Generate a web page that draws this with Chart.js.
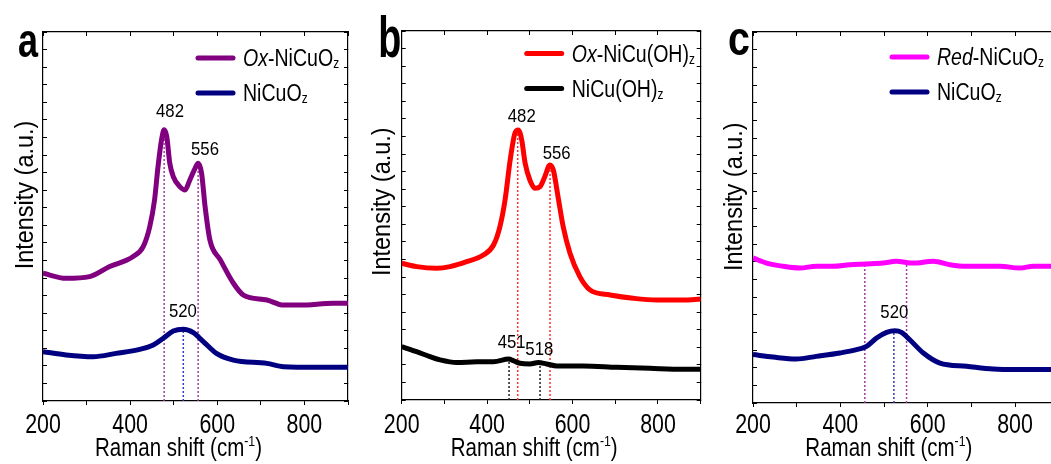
<!DOCTYPE html>
<html>
<head>
<meta charset="utf-8">
<script src="https://cdn.jsdelivr.net/npm/chart.js@4.4.1/dist/chart.umd.min.js"></script>
<style>
  body { margin: 0; background: #fff; width: 1051px; height: 464px; overflow: hidden; position: relative; }
  canvas { position: absolute; top: 0; }
</style>
</head>
<body>
<canvas id="panelA" width="360" height="464" style="left:0px"></canvas>
<canvas id="panelB" width="360" height="464" style="left:350px"></canvas>
<canvas id="panelC" width="365" height="464" style="left:705px"></canvas>
<script>
const FONT = "'Liberation Sans', Arial, sans-serif";

// Panel a: Ox-NiCuOz and NiCuOz (Raman shift in cm-1, intensity in a.u. with offset)
const shiftOxNiCuOz = [200, 253, 307, 353, 407, 430, 445, 456, 464, 472, 478, 484, 491, 499, 514, 526, 537, 549, 556, 564, 572, 583, 607, 637, 660, 714, 752, 790, 867, 900];
const intOxNiCuOz = [7.27, 6.98, 7.08, 7.65, 8.22, 8.79, 9.92, 11.44, 13.34, 14.86, 15.43, 15.05, 13.53, 12.77, 12.20, 12.01, 12.58, 13.24, 13.53, 12.96, 11.06, 9.17, 8.03, 6.70, 6.03, 5.75, 5.46, 5.46, 5.56, 5.56];
const shiftNiCuOzA = [200, 253, 315, 368, 422, 453, 476, 499, 522, 545, 568, 598, 637, 714, 752, 828, 900];
const intNiCuOzA = [2.81, 2.62, 2.52, 2.71, 2.94, 3.19, 3.57, 3.98, 4.08, 3.89, 3.38, 2.71, 2.33, 2.14, 1.95, 1.92, 1.92];

// Panel b: Ox-NiCu(OH)z and NiCu(OH)z
const shiftOxNiCuOH = [200, 235, 282, 313, 352, 391, 415, 430, 442, 454, 465, 473, 481, 489, 500, 512, 524, 535, 547, 555, 566, 578, 594, 617, 641, 688, 742, 797, 859, 900];
const intOxNiCuOH = [7.78, 7.59, 7.50, 7.59, 7.87, 8.25, 8.82, 9.87, 11.39, 13.66, 15.18, 15.37, 14.80, 13.47, 12.52, 12.05, 12.14, 12.71, 13.38, 13.09, 11.57, 9.87, 8.35, 7.02, 6.26, 5.98, 5.79, 5.69, 5.69, 5.75];
const shiftNiCuOH = [200, 235, 266, 290, 329, 376, 415, 451, 461, 477, 500, 520, 539, 563, 625, 703, 781, 859, 900];
const intNiCuOH = [3.04, 2.75, 2.47, 2.28, 2.13, 2.18, 2.18, 2.33, 2.24, 2.09, 2.05, 2.13, 2.05, 1.94, 1.94, 1.86, 1.80, 1.75, 1.75];

// Panel c: Red-NiCuOz and NiCuOz
const shiftRedNiCuOz = [200, 231, 269, 307, 345, 383, 421, 460, 498, 528, 567, 613, 651, 689, 727, 765, 811, 842, 881, 900];
const intRedNiCuOz = [8.21, 7.92, 7.74, 7.64, 7.74, 7.74, 7.83, 7.87, 7.92, 8.02, 7.92, 8.02, 7.83, 7.74, 7.74, 7.74, 7.64, 7.74, 7.74, 7.74];
const shiftNiCuOzC = [200, 246, 299, 345, 399, 437, 460, 483, 506, 525, 540, 559, 590, 628, 689, 750, 804, 881, 900];
const intNiCuOzC = [2.74, 2.60, 2.49, 2.64, 2.83, 3.02, 3.21, 3.68, 4.00, 4.09, 4.00, 3.58, 2.83, 2.26, 2.08, 1.92, 1.89, 1.89, 1.89];

// Dotted peak markers: position and top of the line
const markerPosA = [478, 556, 522];
const markerTopA = [15.1, 13.4, 4.05];
const markerPosB = [471.6, 547.3, 451.3, 523.9];
const markerTopB = [15.2, 13.3, 2.2, 2.0];
const markerPosC = [456, 551.6, 522.6];
const markerTopC = [7.9, 7.9, 4.0];

// Peak labels (centre of the text)
const peakTextA = ['482', '556', '520'];
const peakXA = [491.5, 571.8, 521];
const peakYA = [16.56, 14.4, 5.18];
const peakTextB = ['482', '556', '451', '518'];
const peakXB = [481, 562.9, 457.5, 522.2];
const peakYB = [16.2, 14.1, 3.32, 2.94];
const peakTextC = ['520'];
const peakXC = [523.6];
const peakYC = [5.17];

const tickLabelValues = [200, 400, 600, 800];

const points = (xs, ys) => xs.map((x, i) => ({ x: x, y: ys[i] }));

function curve(xs, ys, color) {
    return {
        data: points(xs, ys),
        borderColor: color,
        borderWidth: 5,
        pointRadius: 0,
        cubicInterpolationMode: 'monotone',
        order: 0
    };
}

function marker(x, top, color) {
    return {
        data: [{ x: x, y: 0 }, { x: x, y: top }],
        borderColor: color,
        borderWidth: 1.5,
        borderDash: [2, 2],
        pointRadius: 0,
        order: 1
    };
}

// Draw text squeezed horizontally (the original figure uses a narrow font)
// parts: [{t, italic, sub, sup}], y is the baseline
function drawText(ctx, parts, x, y, size, sx, align, weight) {
    const fontFor = p => `${p.italic ? 'italic ' : ''}${weight || ''} ${p.sub || p.sup ? Math.round(size * 0.6) : size}px ${FONT}`;
    let width = 0;
    parts.forEach(p => { ctx.font = fontFor(p); width += ctx.measureText(p.t).width; });
    ctx.save();
    ctx.translate(x, y);
    ctx.scale(sx, 1);
    let cx = align === 'center' ? -width / 2 : 0;
    ctx.textAlign = 'left';
    ctx.textBaseline = 'alphabetic';
    parts.forEach(p => {
        ctx.font = fontFor(p);
        const dy = p.sub ? size * 0.08 : p.sup ? -size * 0.42 : 0;
        ctx.fillText(p.t, cx, dy);
        cx += ctx.measureText(p.t).width;
    });
    ctx.restore();
}

function decor(cfg) {
    return {
        id: 'decor',
        afterDraw(chart) {
            const { ctx, chartArea: area, scales: { x, y } } = chart;
            ctx.save();
            ctx.fillStyle = '#000';

            // panel letter
            drawText(ctx, [{ t: cfg.letter }], cfg.letterX, cfg.letterBase, cfg.letterSize, cfg.letterSx, 'left', 'bold');

            // x tick labels
            tickLabelValues.forEach(v => {
                drawText(ctx, [{ t: String(v) }], x.getPixelForValue(v), 433, 28.5, 0.75, 'center');
            });

            // axis titles
            drawText(ctx, [{ t: 'Raman shift (cm' }, { t: '-1', sup: true }, { t: ')' }], (area.left + area.right) / 2 - 17, 456, 25, 0.82, 'center');
            ctx.save();
            ctx.translate(cfg.yTitleX, cfg.yTitleY);
            ctx.rotate(-Math.PI / 2);
            drawText(ctx, [{ t: 'Intensity (a.u.)' }], 0, 0, 25.5, 0.92, 'center');
            ctx.restore();

            // peak labels
            cfg.peakText.forEach((t, i) => {
                drawText(ctx, [{ t: t }], x.getPixelForValue(cfg.peakX[i]), y.getPixelForValue(cfg.peakY[i]) + 6.7, 18.6, 0.9, 'center');
            });

            // legend
            cfg.legend.forEach((item, i) => {
                const ly = area.top + cfg.legendY + i * 35;
                const lx = area.left + cfg.legendX;
                ctx.strokeStyle = item.color;
                ctx.lineWidth = 5;
                ctx.lineCap = 'round';
                ctx.beginPath();
                ctx.moveTo(lx, ly);
                ctx.lineTo(lx + 35, ly);
                ctx.stroke();
                drawText(ctx, item.parts, lx + 45, ly + 8.3, 23, 0.85, 'left');
            });
            ctx.restore();
        }
    };
}

function makePanel(id, datasets, cfg) {
    const frame = { color: '#000', width: 1.2 };
    const inwardTicks = { drawOnChartArea: false, tickLength: -4, color: '#000', lineWidth: 1 };
    return new Chart(document.getElementById(id), {
        type: 'line',
        data: { datasets: datasets },
        options: {
            responsive: false,
            animation: false,
            layout: { padding: { top: cfg.padTop, right: cfg.padRight, left: 0, bottom: 0 } },
            plugins: { legend: { display: false }, tooltip: { enabled: false } },
            scales: {
                x: {
                    type: 'linear', position: 'bottom', min: 200, max: 900,
                    ticks: { display: false, stepSize: 100, autoSkip: false },
                    grid: { drawOnChartArea: false, tickLength: 4, color: '#000', lineWidth: 1 },
                    border: frame,
                    afterFit: s => { s.height = cfg.xHeight; }
                },
                xTop: {
                    type: 'linear', position: 'top', min: 200, max: 900,
                    ticks: { display: false, stepSize: 100 },
                    grid: inwardTicks, border: frame,
                    afterFit: s => { s.height = 0; }
                },
                y: {
                    type: 'linear', position: 'left', min: 0, max: 21,
                    ticks: { display: false, stepSize: 1 },
                    grid: inwardTicks, border: frame,
                    afterFit: s => { s.width = cfg.yWidth; }
                },
                yRight: {
                    type: 'linear', position: 'right', min: 0, max: 21,
                    ticks: { display: false, stepSize: 1 },
                    grid: inwardTicks, border: frame,
                    afterFit: s => { s.width = 0; }
                }
            }
        },
        plugins: [decor(cfg)]
    });
}

const purpleDot = '#a53aa8';
const navyDot = '#3a3ab8';

makePanel('panelA', [
    curve(shiftOxNiCuOz, intOxNiCuOz, '#800080'),
    curve(shiftNiCuOzA, intNiCuOzA, '#000080'),
    marker(markerPosA[0], markerTopA[0], purpleDot),
    marker(markerPosA[1], markerTopA[1], purpleDot),
    marker(markerPosA[2], markerTopA[2], navyDot)
], {
    letter: 'a', letterX: 18, letterBase: 56.7, letterSize: 48, letterSx: 0.75,
    yTitleX: 33.3, yTitleY: 195,
    padTop: 32, padRight: 12, yWidth: 43, xHeight: 63,
    peakText: peakTextA, peakX: peakXA, peakY: peakYA,
    legendX: 155, legendY: 26,
    legend: [
        { color: '#800080', parts: [{ t: 'Ox', italic: true }, { t: '-NiCuO' }, { t: 'z', sub: true }] },
        { color: '#000080', parts: [{ t: 'NiCuO' }, { t: 'z', sub: true }] }
    ]
});

makePanel('panelB', [
    curve(shiftOxNiCuOH, intOxNiCuOH, '#ff0000'),
    curve(shiftNiCuOH, intNiCuOH, '#000000'),
    marker(markerPosB[0], markerTopB[0], '#ff3030'),
    marker(markerPosB[1], markerTopB[1], '#ff3030'),
    marker(markerPosB[2], markerTopB[2], '#202020'),
    marker(markerPosB[3], markerTopB[3], '#202020')
], {
    letter: 'b', letterX: 28.3, letterBase: 56.7, letterSize: 58, letterSx: 0.65,
    yTitleX: 40, yTitleY: 201.7,
    padTop: 31, padRight: 9.3, yWidth: 51.7, xHeight: 64,
    peakText: peakTextB, peakX: peakXB, peakY: peakYB,
    legendX: 125, legendY: 22.5,
    legend: [
        { color: '#ff0000', parts: [{ t: 'Ox', italic: true }, { t: '-NiCu(OH)' }, { t: 'z', sub: true }] },
        { color: '#000000', parts: [{ t: 'NiCu(OH)' }, { t: 'z', sub: true }] }
    ]
});

makePanel('panelC', [
    curve(shiftRedNiCuOz, intRedNiCuOz, '#ff00ff'),
    curve(shiftNiCuOzC, intNiCuOzC, '#000080'),
    marker(markerPosC[0], markerTopC[0], purpleDot),
    marker(markerPosC[1], markerTopC[1], purpleDot),
    marker(markerPosC[2], markerTopC[2], navyDot)
], {
    letter: 'c', letterX: 23, letterBase: 55, letterSize: 48, letterSx: 0.82,
    yTitleX: 36.6, yTitleY: 196.7,
    padTop: 32, padRight: 11.3, yWidth: 48, xHeight: 61,
    peakText: peakTextC, peakX: peakXC, peakY: peakYC,
    legendX: 139, legendY: 25,
    legend: [
        { color: '#ff00ff', parts: [{ t: 'Red', italic: true }, { t: '-NiCuO' }, { t: 'z', sub: true }] },
        { color: '#000080', parts: [{ t: 'NiCuO' }, { t: 'z', sub: true }] }
    ]
});
</script>
</body>
</html>
